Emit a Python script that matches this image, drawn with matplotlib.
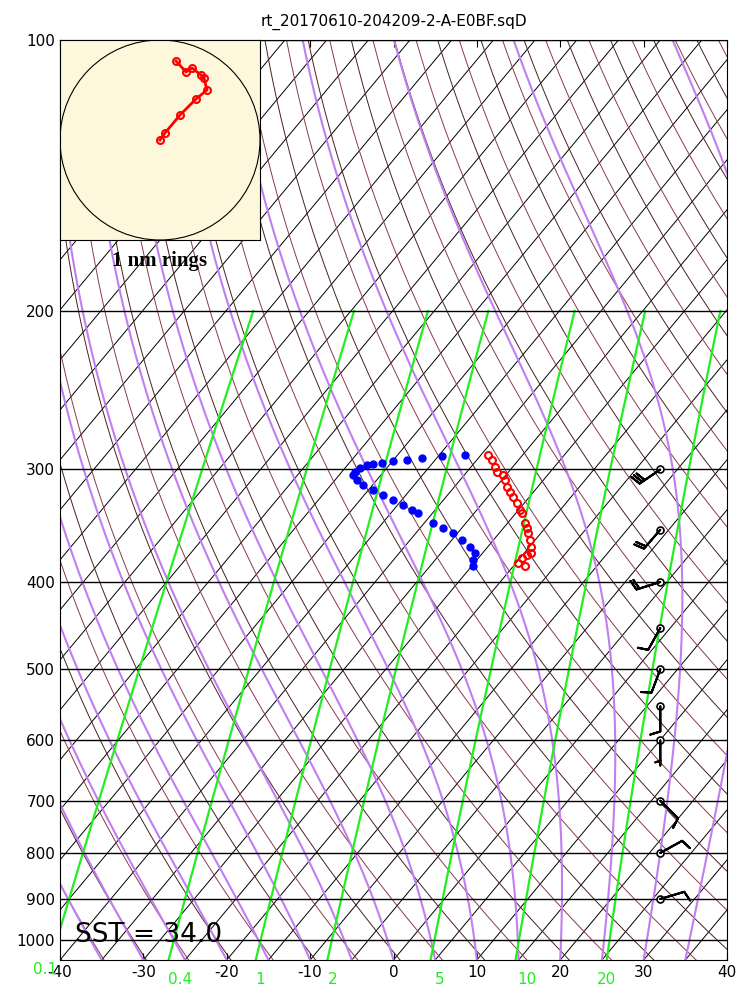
import numpy as np
import matplotlib
matplotlib.use("Agg")
import matplotlib.pyplot as plt
from matplotlib.patches import Circle

# ---- data ----
temp_p = [289.1, 292.8, 298.1, 302.0, 304.3, 308.3, 313.9, 317.9, 322.0, 327.0, 332.9,
          335.5, 344.1, 348.5, 352.9, 359.3, 365.8, 371.5, 373.4, 376.3, 381.1, 384.1]
temp_c = [-39.15, -38.17, -37.11, -36.37, -35.35, -34.61, -33.67, -32.81, -31.95, -30.87, -29.81,
          -29.27, -27.91, -27.17, -26.55, -25.61, -24.79, -24.19, -24.47, -24.77, -24.75, -23.61]
dew_p = [289.1, 290.0, 291.5, 292.8, 293.6, 295.1, 295.8, 296.6, 298.9, 302.0, 304.3, 308.3,
         312.3, 316.2, 320.3, 324.4, 328.6, 332.9, 335.5, 344.1, 348.5, 352.9, 359.3, 365.8,
         371.5, 378.2, 384.1]
dew_c = [-41.90, -44.56, -46.76, -48.36, -49.94, -51.06, -52.04, -52.66, -53.20, -53.40, -53.34,
         -52.36, -51.14, -49.44, -47.74, -46.04, -44.34, -42.76, -41.74, -38.94, -37.24, -35.54,
         -33.76, -32.10, -30.90, -30.44, -29.84]
barb_p = [300, 350, 400, 450, 500, 550, 600, 700, 800, 900]
barb_u = [25, 13, 19, 5, 3, 0, 0, -7, -9, -10]
barb_v = [17, 15, 6, 9, 8, 12, 5, 7, -5, -3]
hodo_u = [0.16, 0.26, 0.32, 0.41, 0.44, 0.47, 0.36, 0.20, 0.05, 0.0]
hodo_v = [0.79, 0.68, 0.72, 0.65, 0.62, 0.50, 0.41, 0.25, 0.07, 0.0]
p_ticks = [100, 200, 300, 400, 500, 600, 700, 800, 900, 1000]
t_ticks = [-40, -30, -20, -10, 0, 10, 20, 30, 40]
mix_labels = ["0.1", "0.4", "1", "2", "5", "10", "20"]
mix_values = [0.1, 0.4, 1, 2, 5, 10, 20]
title = "rt_20170610-204209-2-A-E0BF.sqD"
sst_text = "SST = 34.0"

P0 = 1052.0
PTOP = 100.0
K = 90.0
KM = 54.0

def L(p):
    return np.log10(P0 / np.asarray(p, float))

def skx(t, p, k=K):
    return np.asarray(t, float) + k * L(p)

fig = plt.figure(figsize=(7.5, 10), dpi=100)
ax = fig.add_axes([60/750, 40/1000, 667/750, 920/1000])
ax.set_yscale("log")
ax.set_ylim(P0, PTOP)
ax.set_xlim(-40, 40)

pp = np.logspace(np.log10(P0), np.log10(PTOP), 300)
# isotherms
for t in np.arange(-180, 45, 5):
    ax.plot(skx(t, pp), pp, color="black", lw=0.7, zorder=1)
# dry adiabats
for th in np.arange(230, 480, 5):
    tk = th * (pp/1000.0)**0.2857 - 273.15
    col = "#4a2020" if th % 10 == 0 else "#8a3a4a"
    ax.plot(skx(tk, pp), pp, color=col, lw=0.7, zorder=1)
# moist adiabats
def es(tc):
    return 6.112*np.exp(17.67*tc/(tc+243.5))
for t0 in np.arange(-35, 40, 5):
    T = t0 + 273.15
    ps = np.arange(P0, PTOP-0.5, -1.0)
    Ts = []
    for p in ps:
        Ts.append(T)
        e = es(T-273.15)
        rs = 0.622*e/(p-e)
        dTdp = (287.0*T + 2.5e6*rs) / (1004.0 + 2.5e6**2*rs*0.622/(287.0*T**2)) / p
        T = T - dTdp
    Ts = np.array(Ts) - 273.15
    ax.plot(skx(Ts, ps), ps, color="#c07ef0", lw=1.5, zorder=2)
# mixing ratio lines
pm = np.logspace(np.log10(P0), np.log10(200), 100)
for w in mix_values:
    e = w/1000*pm/(0.622+w/1000)
    a = np.log(e/6.112)
    td = 243.5*a/(17.67-a)
    ax.plot(skx(td, pm, KM), pm, color="#22ee22", lw=1.6, zorder=2)
# isobars
for p in p_ticks:
    ax.axhline(p, color="black", lw=1.0, zorder=3)

# data
ax.plot(skx(temp_c, temp_p), temp_p, "o", mfc="none", mec="red", mew=1.5, ms=5, zorder=5)
ax.plot(skx(dew_c, dew_p), dew_p, "o", color="blue", ms=5, zorder=5)

# barbs
bx = [32]*len(barb_p)
ax.plot(bx, barb_p, "o", mfc="white", mec="black", ms=5, mew=1.2, zorder=6)
ax.barbs(bx, barb_p, barb_u, barb_v, length=6, linewidth=1.5, color="black", zorder=6)

ax.set_yticks(p_ticks)
ax.set_yticklabels([str(p) for p in p_ticks], fontsize=11)
ax.yaxis.set_minor_locator(matplotlib.ticker.NullLocator())
ax.set_xticks(t_ticks)
ax.set_xticklabels([str(t) for t in t_ticks], fontsize=11)
ax.tick_params(axis="x", top=True, direction="in", length=5)
ax.tick_params(axis="y", length=0)
ax.set_title(title, fontsize=11, pad=10)

ax.text((75-60)/667, (960-935)/920, sst_text, transform=ax.transAxes, fontsize=19,
        va="center", ha="left", zorder=7)

mix_x = [45, 180, 260, 333, 440, 527, 607]
for lab, x in zip(mix_labels, mix_x):
    y = 970 if lab == "0.1" else 980
    fig.text(x/750, 1-y/1000, lab, color="#22ee22", fontsize=11, ha="center", va="center")

# hodograph inset
ax2 = fig.add_axes([60/750, 1-240/1000, 200/750, 200/1000])
ax2.set_facecolor("#fdf7dc")
ax2.set_xlim(-1, 1); ax2.set_ylim(-1, 1)
ax2.set_xticks([]); ax2.set_yticks([])
ax2.add_patch(Circle((0, 0), 1, fill=False, ec="black", lw=0.8))
ax2.plot(hodo_u, hodo_v, "-o", color="red", lw=2, mfc="none", mec="red", mew=1.5, ms=5)
fig.text(160/750, 1-261/1000, "1 nm rings", fontsize=15, fontweight="bold",
         family="Liberation Serif", ha="center", va="center")

fig.savefig("out.png", dpi=100)
